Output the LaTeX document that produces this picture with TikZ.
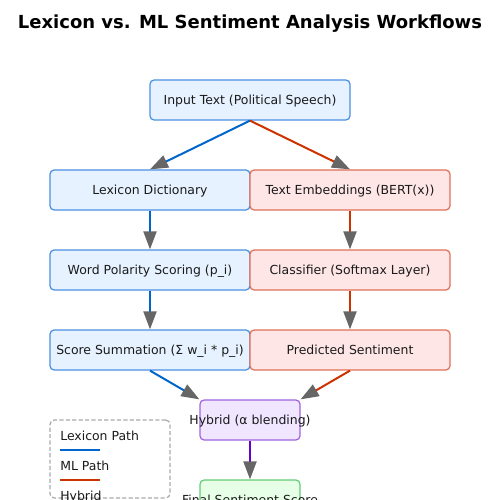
\documentclass[tikz,border=0pt]{standalone}
\usepackage{fontspec}
\setmainfont{DejaVu Sans}
\usetikzlibrary{arrows.meta}
\definecolor{lexc}{HTML}{0066CC}
\definecolor{mlc}{HTML}{CC3300}
\definecolor{hybc}{HTML}{6600CC}
\definecolor{lexfill}{HTML}{E6F2FF}
\definecolor{lexdraw}{HTML}{4A90E2}
\definecolor{mlfill}{HTML}{FFE6E6}
\definecolor{mldraw}{HTML}{E07058}
\definecolor{hybfill}{HTML}{F0E6FF}
\definecolor{hybdraw}{HTML}{A066E0}
\definecolor{finfill}{HTML}{E6FFE6}
\definecolor{findraw}{HTML}{66CC77}
\definecolor{arrowgray}{HTML}{666666}
\definecolor{txtc}{HTML}{1A1A1A}
\definecolor{leggray}{HTML}{AAAAAA}
\tikzset{
  box/.style={rectangle, rounded corners=3bp, line width=0.9bp, inner sep=0pt,
    minimum width=144bp, minimum height=28.8bp, text=txtc, text depth=0pt, font=\fontsize{9}{11}\selectfont},
  lexbox/.style={box, draw=lexdraw, fill=lexfill},
  mlbox/.style={box, draw=mldraw, fill=mlfill},
  smallbox/.style={box, minimum width=72bp},
  hybbox/.style={smallbox, draw=hybdraw, fill=hybfill},
  finbox/.style={smallbox, draw=findraw, fill=finfill},
  txt/.style={text=txtc, font=\fontsize{9}{11}\selectfont, inner sep=0pt},
  ctxt/.style={txt, text depth=0pt},
  conn/.style={line width=1.44bp, -{Triangle[length=13bp,width=9.4bp,color=arrowgray,fill=arrowgray]}},
  lexline/.style={conn, draw=lexc},
  mlline/.style={conn, draw=mlc},
  hybline/.style={conn, draw=hybc},
  legendbox/.style={rectangle, rounded corners=3bp, draw=leggray, line width=0.9bp,
    dash pattern=on 3bp off 1.6bp, inner sep=0pt, minimum width=86.4bp, minimum height=56bp},
  legline/.style={line width=1.44bp}
}
\begin{document}
\begin{tikzpicture}[x=0.72bp, y=-0.72bp]
\useasboundingbox (0,0) rectangle (500,500);
\clip (0,0) rectangle (500,500);
\node[text=black, font=\fontsize{13}{15}\selectfont\bfseries] (title) at (250,24) {Lexicon vs. ML Sentiment Analysis Workflows};

\node[lexbox] (inp) at (250,100) {Input Text (Political Speech)};
\node[lexbox] (lex) at (150,190) {Lexicon Dictionary};
\node[mlbox] (emb) at (350,190) {Text Embeddings (BERT(x))};
\node[lexbox] (pol) at (150,270) {Word Polarity Scoring (p\_i)};
\node[mlbox] (cls) at (350,270) {Classifier (Softmax Layer)};
\node[lexbox] (sum) at (150,350) {Score Summation (Σ w\_i * p\_i)};
\node[mlbox] (pred) at (350,350) {Predicted Sentiment};
\node[hybbox] (hyb) at (250,420) {};
\node[ctxt] (hybt) at (hyb) {Hybrid (α blending)};
\node[finbox] (fin) at (250,500) {};
\node[ctxt] (fint) at (fin) {Final Sentiment Score};

\draw[lexline] (inp.south) -- (lex.north);
\draw[mlline] (inp.south) -- (emb.north);
\draw[lexline] (lex.south) -- (pol.north);
\draw[mlline] (emb.south) -- (cls.north);
\draw[lexline] (pol.south) -- (sum.north);
\draw[mlline] (cls.south) -- (pred.north);
\draw[lexline] (sum.south) -- (hyb.north west);
\draw[mlline] (pred.south) -- (hyb.north east);
\draw[hybline] (hyb.south) -- (fin.north);

\node[legendbox] (leg) at (110,459) {};
\node[txt, anchor=base west] (lt1) at (60,440) {Lexicon Path};
\coordinate (l1a) at (60,450); \coordinate (l1b) at (100,450);
\draw[legline, lexc] (l1a) -- (l1b);
\node[txt, anchor=base west] (lt2) at (60,470) {ML Path};
\coordinate (l2a) at (60,480); \coordinate (l2b) at (100,480);
\draw[legline, mlc] (l2a) -- (l2b);
\node[txt, anchor=base west] (lt3) at (60,500) {Hybrid};
\end{tikzpicture}
\end{document}
